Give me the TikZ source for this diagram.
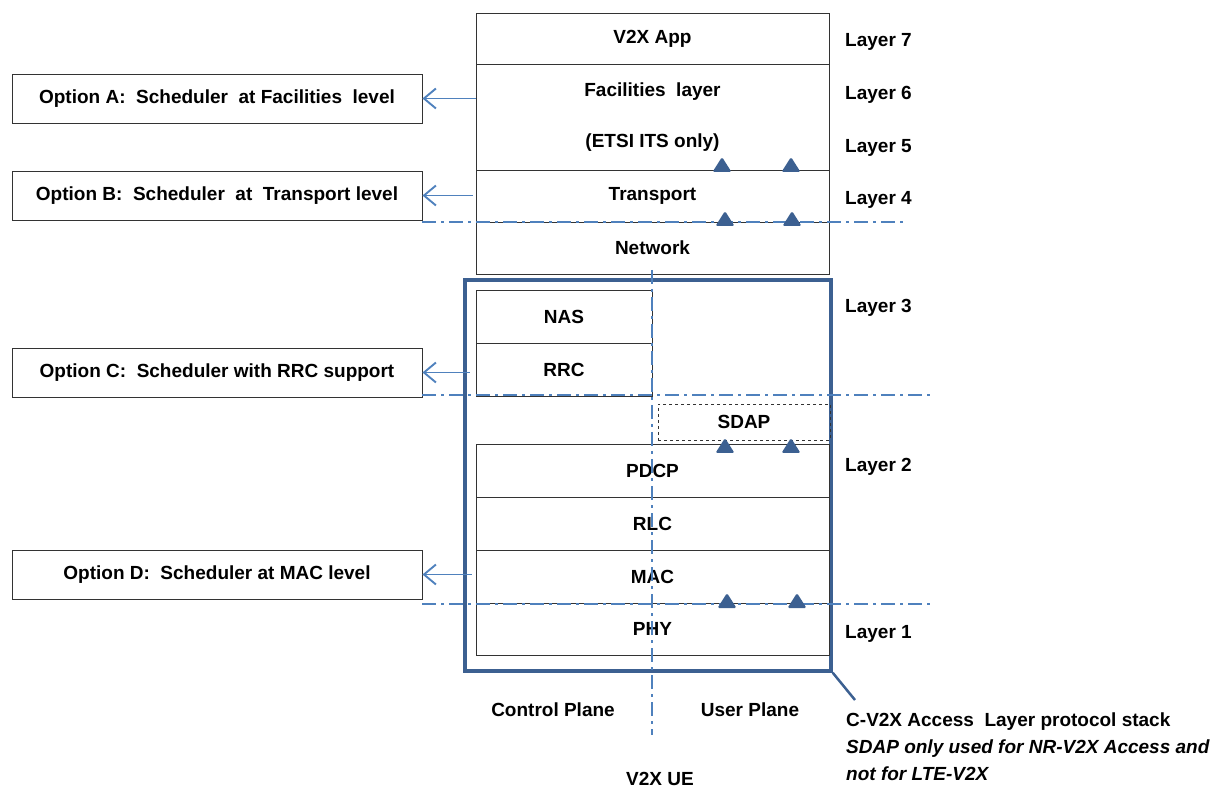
\documentclass[tikz,border=0pt]{standalone}
\usepackage{fontspec}
\setmainfont{Liberation Sans}
\usetikzlibrary{arrows.meta}
\definecolor{dkblue}{HTML}{3C6091}
\definecolor{ltblue}{HTML}{4F81BD}
\begin{document}
\begin{tikzpicture}[x=1pt,y=-1pt,
  font=\fontsize{19}{22}\selectfont\bfseries,
  layer/.style={draw=black!80, line width=0.9pt, minimum width=353pt, minimum height=53pt, inner sep=0pt},
  half/.style={layer, minimum width=176pt},
  option/.style={draw=black!80, line width=0.9pt, minimum width=410pt, minimum height=49pt, inner sep=0pt},
  dd/.style={ltblue, line width=1.8pt, dash pattern=on 14pt off 5pt on 3pt off 5pt},
  arr/.style={ltblue, line width=1.9pt, -{Straight Barb[length=12pt,width=20pt,line width=1.9pt]}},
  lbl/.style={anchor=west, inner sep=0pt},
  tri/.pic={\fill[dkblue, rounded corners=1.5pt] (-9.5,0) -- (9.5,0) -- (0,-15) -- cycle;}
]
\useasboundingbox (0,0) rectangle (1232,791);

% upper stack
\node[layer, minimum height=51pt] (app) at (652.5,38.5) {V2X App};
\node[layer, minimum height=106pt, align=center] (fac) at (652.5,117) {Facilities\ \ layer\\[29pt](ETSI ITS only)};
\node[layer, minimum height=52pt] (trans) at (652.5,196) {Transport};
\node[layer, minimum height=52pt] (net) at (652.5,248) {Network};

% access layer
\node[draw=dkblue, line width=3.5pt, minimum width=366pt, minimum height=391pt, inner sep=0pt] (cv2x) at (648,475.5) {};
\node[half] (nas) at (564,316.5) {NAS};
\node[half] (rrc) at (564,369.5) {RRC};
\node[draw=black!80, line width=0.7pt, dashed, minimum width=172pt, minimum height=36pt, inner sep=0pt] (sdap) at (744,422) {SDAP};
\node[layer] (pdcp) at (652.5,470.5) {PDCP};
\node[layer] (rlc) at (652.5,523.5) {RLC};
\node[layer] (mac) at (652.5,576.5) {MAC};
\node[layer, minimum height=52pt] (phy) at (652.5,629) {PHY};

% options
\node[option] (optA) at (217,98.5) {Option A:\ \ Scheduler\ \ at Facilities\ \ level};
\node[option] (optB) at (217,195.5) {Option B:\ \ Scheduler\ \ at\ \ Transport level};
\node[option] (optC) at (217,372.5) {Option C:\ \ Scheduler with RRC support};
\node[option] (optD) at (217,574.5) {Option D:\ \ Scheduler at MAC level};

\draw[arr] (fac.west |- optA.east) -- (optA.east);
\draw[arr] ([xshift=-3pt]trans.west |- optB.east) -- (optB.east);
\draw[arr] ([xshift=-6pt]rrc.west |- optC.east) -- (optC.east);
\draw[arr] ([xshift=-4pt]mac.west |- optD.east) -- (optD.east);

% dash-dot lines
\coordinate (h1a) at (422,222); \coordinate (h1b) at (905,222);
\coordinate (h2a) at (422,395); \coordinate (h2b) at (932,395);
\coordinate (h3a) at (422,604); \coordinate (h3b) at (932,604);
\coordinate (vt) at (652,270); \coordinate (vb) at (652,735);
\draw[dd] (h1a) -- (h1b);
\draw[dd] (h2a) -- (h2b);
\draw[dd] (h3a) -- (h3b);
\draw[dd] (vt) -- (vb);

% triangles
\pic at (722,172) {tri}; \pic at (791,172) {tri};
\pic at (725,226) {tri}; \pic at (792,226) {tri};
\pic at (725,453) {tri}; \pic at (791,453) {tri};
\pic at (727,608) {tri}; \pic at (797,608) {tri};

% layer labels
\node[lbl] (l7) at (845,42) {Layer 7};
\node[lbl] (l6) at (845,95) {Layer 6};
\node[lbl] (l5) at (845,148) {Layer 5};
\node[lbl] (l4) at (845,200) {Layer 4};
\node[lbl] (l3) at (845,308) {Layer 3};
\node[lbl] (l2) at (845,467) {Layer 2};
\node[lbl] (l1) at (845,634) {Layer 1};

% bottom texts
\node (cp) at (553,710) {Control Plane};
\node (up) at (750,710) {User Plane};
\node (ue) at (660,779) {V2X UE};
\coordinate (diagend) at (855,700);
\draw[dkblue, line width=2.5pt] (cv2x.south east) -- (diagend);
\node[anchor=north west, align=left, inner sep=0pt] (stack) at (846,713)
  {C-V2X Access\ \ Layer protocol stack\\[5pt]\itshape SDAP only used for NR-V2X Access and\\[5pt]\itshape not for LTE-V2X};
\end{tikzpicture}
\end{document}
